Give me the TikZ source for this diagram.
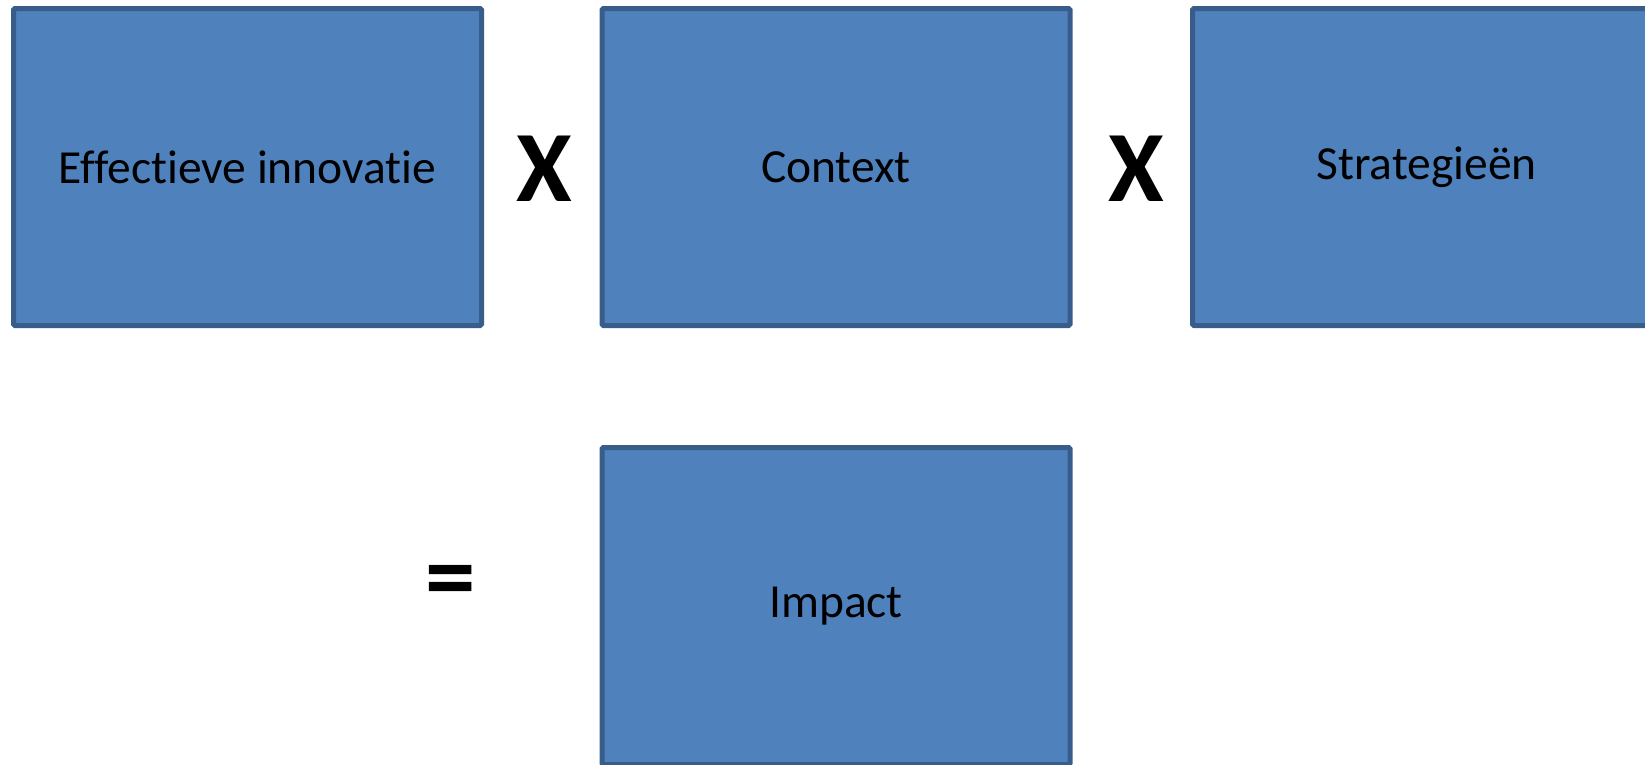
\documentclass[tikz,border=0pt]{standalone}
\usepackage{fontspec}
\setmainfont[Ligatures=NoCommon]{Carlito}
\definecolor{boxfill}{HTML}{4F81BD}
\definecolor{boxline}{HTML}{385D8A}
\begin{document}
\begin{tikzpicture}[x=1pt,y=-1pt,
  blockbox/.style={draw=boxline,fill=boxfill,line width=5pt,rounded corners=1.5pt,
    minimum width=468pt,minimum height=317pt,inner sep=0pt,
    font=\fontsize{47.5}{56}\selectfont,text=black},
  opsym/.style={font=\fontsize{101}{110}\selectfont\bfseries,inner sep=0pt,text=black}]
\useasboundingbox (0,0) rectangle (1645,764);
\begin{scope}
\clip (0,0) rectangle (1645,764);
\node[blockbox] (eff) at (247.5,167) {Effectieve innovatie};
\node[blockbox] (ctx) at (836,167) {Context};
\node[blockbox] (str) at (1426.5,167) {Strategieën};
\node[blockbox] (imp) at (836,606) {Impact};
\end{scope}
\node[opsym] (x1) at (544,169) {X};
\node[opsym] (x2) at (1136,169) {X};
\node[opsym] (eq) at (451,588) {=};
\end{tikzpicture}
\end{document}
